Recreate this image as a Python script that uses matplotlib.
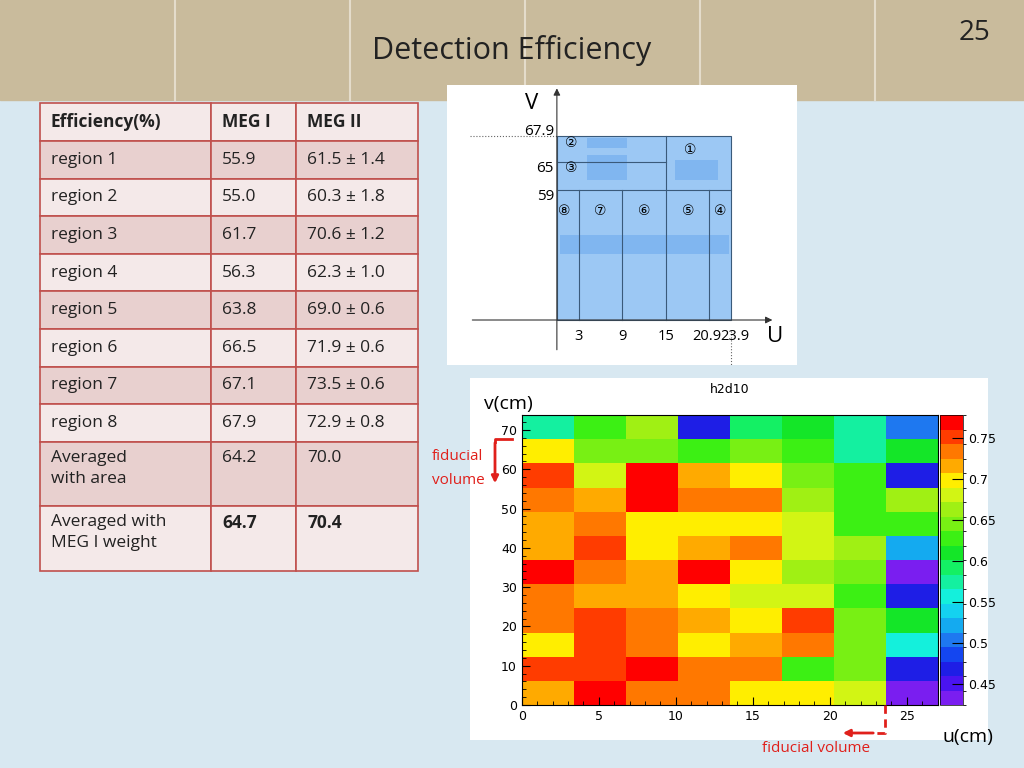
import numpy as np
import matplotlib
matplotlib.use("Agg")
import matplotlib.pyplot as plt
from matplotlib.colors import ListedColormap, BoundaryNorm
from matplotlib.patches import Rectangle

plt.rcParams["font.family"] = "Open Sans"

# ---- table data ----
col_headers = ["Efficiency(%)", "MEG I", "MEG II"]
row_names = ["region 1", "region 2", "region 3", "region 4", "region 5", "region 6",
             "region 7", "region 8", "Averaged\nwith area", "Averaged with\nMEG I weight"]
meg1 = ["55.9", "55.0", "61.7", "56.3", "63.8", "66.5", "67.1", "67.9", "64.2", "64.7"]
meg2 = ["61.5 ± 1.4", "60.3 ± 1.8", "70.6 ± 1.2", "62.3 ± 1.0", "69.0 ± 0.6",
        "71.9 ± 0.6", "73.5 ± 0.6", "72.9 ± 0.8", "70.0", "70.4"]

# ---- region diagram (sketch, not to scale in v) ----
u_ticks = [3, 9, 15, 20.9, 23.9]
u_labels = ["3", "9", "15", "20.9", "23.9"]
v_labels = ["59", "65", "67.9"]
v_draw = [48, 58.3, 67.9]   # where the sketch draws those v levels

# ---- efficiency map (rows bottom -> top) ----
u_edges = np.linspace(0, 27.0, 9)
v_edges = np.linspace(0, 73.8, 13)
eff = np.array([
    [0.72, 0.77, 0.74, 0.74, 0.70, 0.70, 0.68, 0.43],
    [0.75, 0.75, 0.77, 0.74, 0.74, 0.62, 0.65, 0.46],
    [0.70, 0.75, 0.74, 0.70, 0.72, 0.74, 0.65, 0.55],
    [0.74, 0.75, 0.74, 0.72, 0.70, 0.75, 0.65, 0.61],
    [0.74, 0.72, 0.72, 0.70, 0.68, 0.68, 0.62, 0.46],
    [0.77, 0.74, 0.72, 0.77, 0.70, 0.66, 0.65, 0.44],
    [0.72, 0.75, 0.70, 0.72, 0.74, 0.68, 0.66, 0.52],
    [0.72, 0.74, 0.70, 0.70, 0.70, 0.68, 0.62, 0.63],
    [0.74, 0.72, 0.77, 0.74, 0.74, 0.66, 0.62, 0.66],
    [0.75, 0.68, 0.77, 0.72, 0.70, 0.64, 0.62, 0.46],
    [0.70, 0.65, 0.65, 0.62, 0.64, 0.62, 0.58, 0.61],
    [0.58, 0.62, 0.66, 0.47, 0.59, 0.61, 0.58, 0.50],
])
palette = ["#7a1ef0", "#4a14f0", "#1e1ee6", "#1446f0", "#1e78f0", "#14aaf0",
           "#14d2f0", "#14f0dc", "#14f0a0", "#14f064", "#14e628", "#3cf014",
           "#78f014", "#a0f014", "#d2f514", "#ffee00", "#ffaa00", "#ff7800",
           "#ff3c00", "#ff0000"]

W, H = 1024, 768
fig = plt.figure(figsize=(W / 100, H / 100), dpi=100)
fig.patch.set_facecolor("#d8e8f1")


def px(l, t, r, b):
    return [l / W, 1 - b / H, (r - l) / W, (b - t) / H]


# background / header
bg = fig.add_axes([0, 0, 1, 1])
bg.set_xlim(0, W); bg.set_ylim(H, 0); bg.axis("off")
bg.add_patch(Rectangle((0, 0), W, 100, color="#c9bb9c"))
for x in [175, 350, 525, 700, 875]:
    bg.plot([x, x], [0, 100], color="#e4dccb", lw=1.5)
bg.text(512, 50, "Detection Efficiency", ha="center", va="center", fontsize=22, color="#222222")
bg.text(975, 33, "25", ha="center", va="center", fontsize=20, color="#222222")

# table
col_x = [40, 211, 296, 418]
row_y = [103, 141] + [141 + 37.6 * (i + 1) for i in range(8)] + [506, 571]
rows = [col_headers] + [[n, a, b] for n, a, b in zip(row_names, meg1, meg2)]
for i, row in enumerate(rows):
    t, b = row_y[i], row_y[i + 1]
    fc = "#f4e9e9" if i % 2 == 0 else "#e8d0cf"
    for j in range(3):
        bg.add_patch(Rectangle((col_x[j], t), col_x[j + 1] - col_x[j], b - t,
                               facecolor=fc, edgecolor="#c0504d", lw=1.2))
        bold = i == 0 or (i == len(rows) - 1 and j > 0)
        multiline = i >= 9
        ty = t + 8 if multiline else (t + b) / 2
        bg.text(col_x[j] + 11, ty, row[j], ha="left", va="top" if multiline else "center",
                fontsize=12.5, fontweight="bold" if bold else "normal",
                color="#222222", linespacing=1.45)

# region diagram
ax1 = fig.add_axes(px(447, 85, 797, 365))
ax1.set_facecolor("white")
ax1.set_xlim(-15.1, 33.0); ax1.set_ylim(-16.6, 86.7)
ax1.set_xticks([]); ax1.set_yticks([])
for s in ax1.spines.values():
    s.set_visible(False)
lc = "#3a5a7a"
ax1.add_patch(Rectangle((0, 0), 23.9, 67.9, facecolor="#9cc8f4", edgecolor=lc, lw=0.8))
for (x0, y0, w, h) in [(0.4, 24.4, 23.2, 7), (4.1, 63.3, 5.6, 4), (4.1, 51.6, 5.6, 9.2), (16.2, 51.6, 6.0, 7.4)]:
    ax1.add_patch(Rectangle((x0, y0), w, h, facecolor="#80b6f0", edgecolor="none"))
ax1.plot([0, 23.9], [v_draw[0]] * 2, color=lc, lw=0.8)
ax1.plot([0, 15], [v_draw[1]] * 2, color=lc, lw=0.8)
ax1.plot([15, 15], [v_draw[0], v_draw[2]], color=lc, lw=0.8)
for u in u_ticks[:4]:
    ax1.plot([u, u], [0, v_draw[0]], color=lc, lw=0.8)
ax1.annotate("", xy=(30, 0), xytext=(-12, 0), arrowprops=dict(arrowstyle="-|>", color="#333333", lw=0.8))
ax1.annotate("", xy=(0, 86.5), xytext=(0, -12), arrowprops=dict(arrowstyle="-|>", color="#333333", lw=0.8))
ax1.plot([-12, 0], [67.9, 67.9], ls=":", color="#666666", lw=0.8)
ax1.plot([23.9, 23.9], [-4, -16.6], ls=":", color="#666666", lw=0.8)
ax1.text(-3.5, 80, "V", fontsize=16, ha="center", va="center")
ax1.text(30, -6, "U", fontsize=16, ha="center", va="center")
for lab, v in zip(v_labels, v_draw):
    ax1.text(-0.4, v + (1.5 if lab == "67.9" else -2.5), lab, ha="right", va="center", fontsize=11)
for u, lab in zip(u_ticks, u_labels):
    ax1.text(u + (-0.3 if lab == "20.9" else 0.6 if lab == "23.9" else 0), -6, lab,
             ha="center", va="center", fontsize=10.5)
labels = {"①": (18.3, 62.7), "②": (2, 65.4), "③": (2, 56.0), "⑧": (1, 40.2), "⑦": (6, 40.2),
          "⑥": (12, 40.2), "⑤": (18, 40.2), "④": (22.4, 40.2)}
for k, (x, y) in labels.items():
    ax1.text(x, y, k, ha="center", va="center", fontsize=10, family="DejaVu Sans")

# efficiency map panel
panel = fig.add_axes(px(470, 378, 988, 740))
panel.set_facecolor("white"); panel.set_xticks([]); panel.set_yticks([])
for s in panel.spines.values():
    s.set_visible(False)

cmap = ListedColormap(palette)
bounds = np.linspace(0.424, 0.778, len(palette) + 1)
norm = BoundaryNorm(bounds, cmap.N)
ax2 = fig.add_axes(px(521.7, 415, 937.7, 705))
mesh = ax2.pcolormesh(u_edges, v_edges, eff, cmap=cmap, norm=norm)
ax2.set_xlim(0, 27.0); ax2.set_ylim(0, 73.8)
ax2.set_xticks([0, 5, 10, 15, 20, 25]); ax2.set_yticks(range(0, 71, 10))
ax2.minorticks_on()
ax2.tick_params(labelsize=9, direction="in", length=6, width=0.8)
ax2.tick_params(which="minor", direction="in", length=3)
ax2.set_title("h2d10", fontsize=9, family="DejaVu Sans", pad=16)
for lab in ax2.get_xticklabels() + ax2.get_yticklabels():
    lab.set_family("Liberation Sans Narrow")

cax = fig.add_axes(px(940, 415, 963, 705))
cb = fig.colorbar(mesh, cax=cax, ticks=[0.45, 0.5, 0.55, 0.6, 0.65, 0.7, 0.75])
cb.ax.set_yticklabels(["0.45", "0.5", "0.55", "0.6", "0.65", "0.7", "0.75"])
cb.ax.tick_params(labelsize=9, direction="in", length=8)
cb.outline.set_linewidth(0.5)
for lab in cb.ax.get_yticklabels():
    lab.set_family("Liberation Sans Narrow")

# annotations on top of everything
top = fig.add_axes([0, 0, 1, 1], zorder=10)
top.set_xlim(0, W); top.set_ylim(H, 0); top.axis("off"); top.patch.set_alpha(0)
top.text(508, 404, "v(cm)", ha="center", va="center", fontsize=14)
top.text(968, 737, "u(cm)", ha="center", va="center", fontsize=14)
top.text(458, 457, "fiducial", ha="center", va="center", fontsize=11, color="#e0201b")
top.text(458, 481, "volume", ha="center", va="center", fontsize=11, color="#e0201b")
top.text(816, 748, "fiducial volume", ha="center", va="center", fontsize=11, color="#e0201b")
top.plot([512, 495, 495], [439, 439, 442], color="#e0201b", lw=2)
top.annotate("", xy=(495, 486), xytext=(495, 440), arrowprops=dict(arrowstyle="-|>", color="#e0201b", lw=2))
top.plot([885, 885, 875], [705, 733, 733], color="#e0201b", lw=2, ls=(0, (3, 2)))
top.annotate("", xy=(840, 733), xytext=(876, 733), arrowprops=dict(arrowstyle="-|>", color="#e0201b", lw=2))

fig.savefig("out.png", dpi=100)
